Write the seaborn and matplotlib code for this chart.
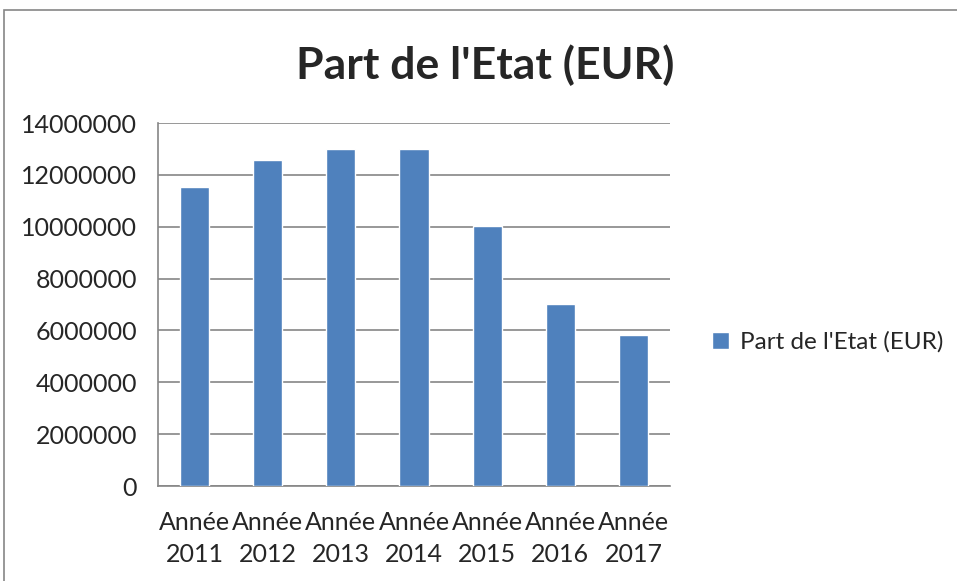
import numpy as np
import pandas as pd
import matplotlib.pyplot as plt
import seaborn as sns
from matplotlib.patches import Rectangle

# données
annees = ["Année\n2011", "Année\n2012", "Année\n2013", "Année\n2014",
          "Année\n2015", "Année\n2016", "Année\n2017"]
part_etat = [11520000, 12590000, 12980000, 12980000, 10040000, 7010000, 5810000]
yticks = [0, 2000000, 4000000, 6000000, 8000000, 10000000, 12000000, 14000000]

df = pd.DataFrame({"annee": annees, "part": part_etat})

sns.set_style("white")
plt.rcParams['font.family'] = ['Lato', 'DejaVu Sans']

fig = plt.figure(figsize=(9.57, 5.81), dpi=100)
ax = fig.add_axes([158/957, 1 - 486/581, (670-158)/957, (486-123)/581])

sns.barplot(data=df, x="annee", y="part", color="#4F81BD", width=0.4,
            saturation=1, ax=ax, label="Part de l'Etat (EUR)", zorder=3)

ax.set_ylim(0, 14000000)
ax.set_xlim(-0.5, 6.5)
ax.set_yticks(yticks)
ax.set_yticklabels([str(v) for v in yticks], fontsize=18)
ax.yaxis.grid(True, color="#868686", linewidth=1.2, zorder=0)
ax.set_axisbelow(True)

# ticks x aux frontières des catégories
ax.set_xticks(np.arange(7))
ax.set_xticklabels(annees, fontsize=18, linespacing=1.5)
ax.set_xticks(np.arange(-0.5, 7, 1), minor=True)
ax.tick_params(axis="x", which="major", length=0, pad=18)
ax.tick_params(axis="x", which="minor", length=7, color="#868686", direction="out")
ax.tick_params(axis="y", length=5, color="#868686", direction="out", pad=10)

for s in ["top", "right"]:
    ax.spines[s].set_visible(False)
for s in ["left", "bottom"]:
    ax.spines[s].set_color("#868686")
    ax.spines[s].set_linewidth(1.2)

ax.set_xlabel("")
ax.set_ylabel("")

fig.text(485/957, 1 - 65/581, "Part de l'Etat (EUR)", fontsize=32,
         fontweight="bold", ha="center", va="center")

ax.legend(loc="center left", bbox_to_anchor=(690/957, 1 - 342/581),
          bbox_transform=fig.transFigure, frameon=False, fontsize=17.5,
          handlelength=0.7, handleheight=0.7, handletextpad=0.45)

# cadre extérieur
fig.patches.append(Rectangle((4/957, -0.1), 1.2, 1 - 10/581 + 0.1,
                             transform=fig.transFigure, fill=False,
                             edgecolor="#868686", linewidth=1.2))

plt.savefig("out.png", dpi=100)
